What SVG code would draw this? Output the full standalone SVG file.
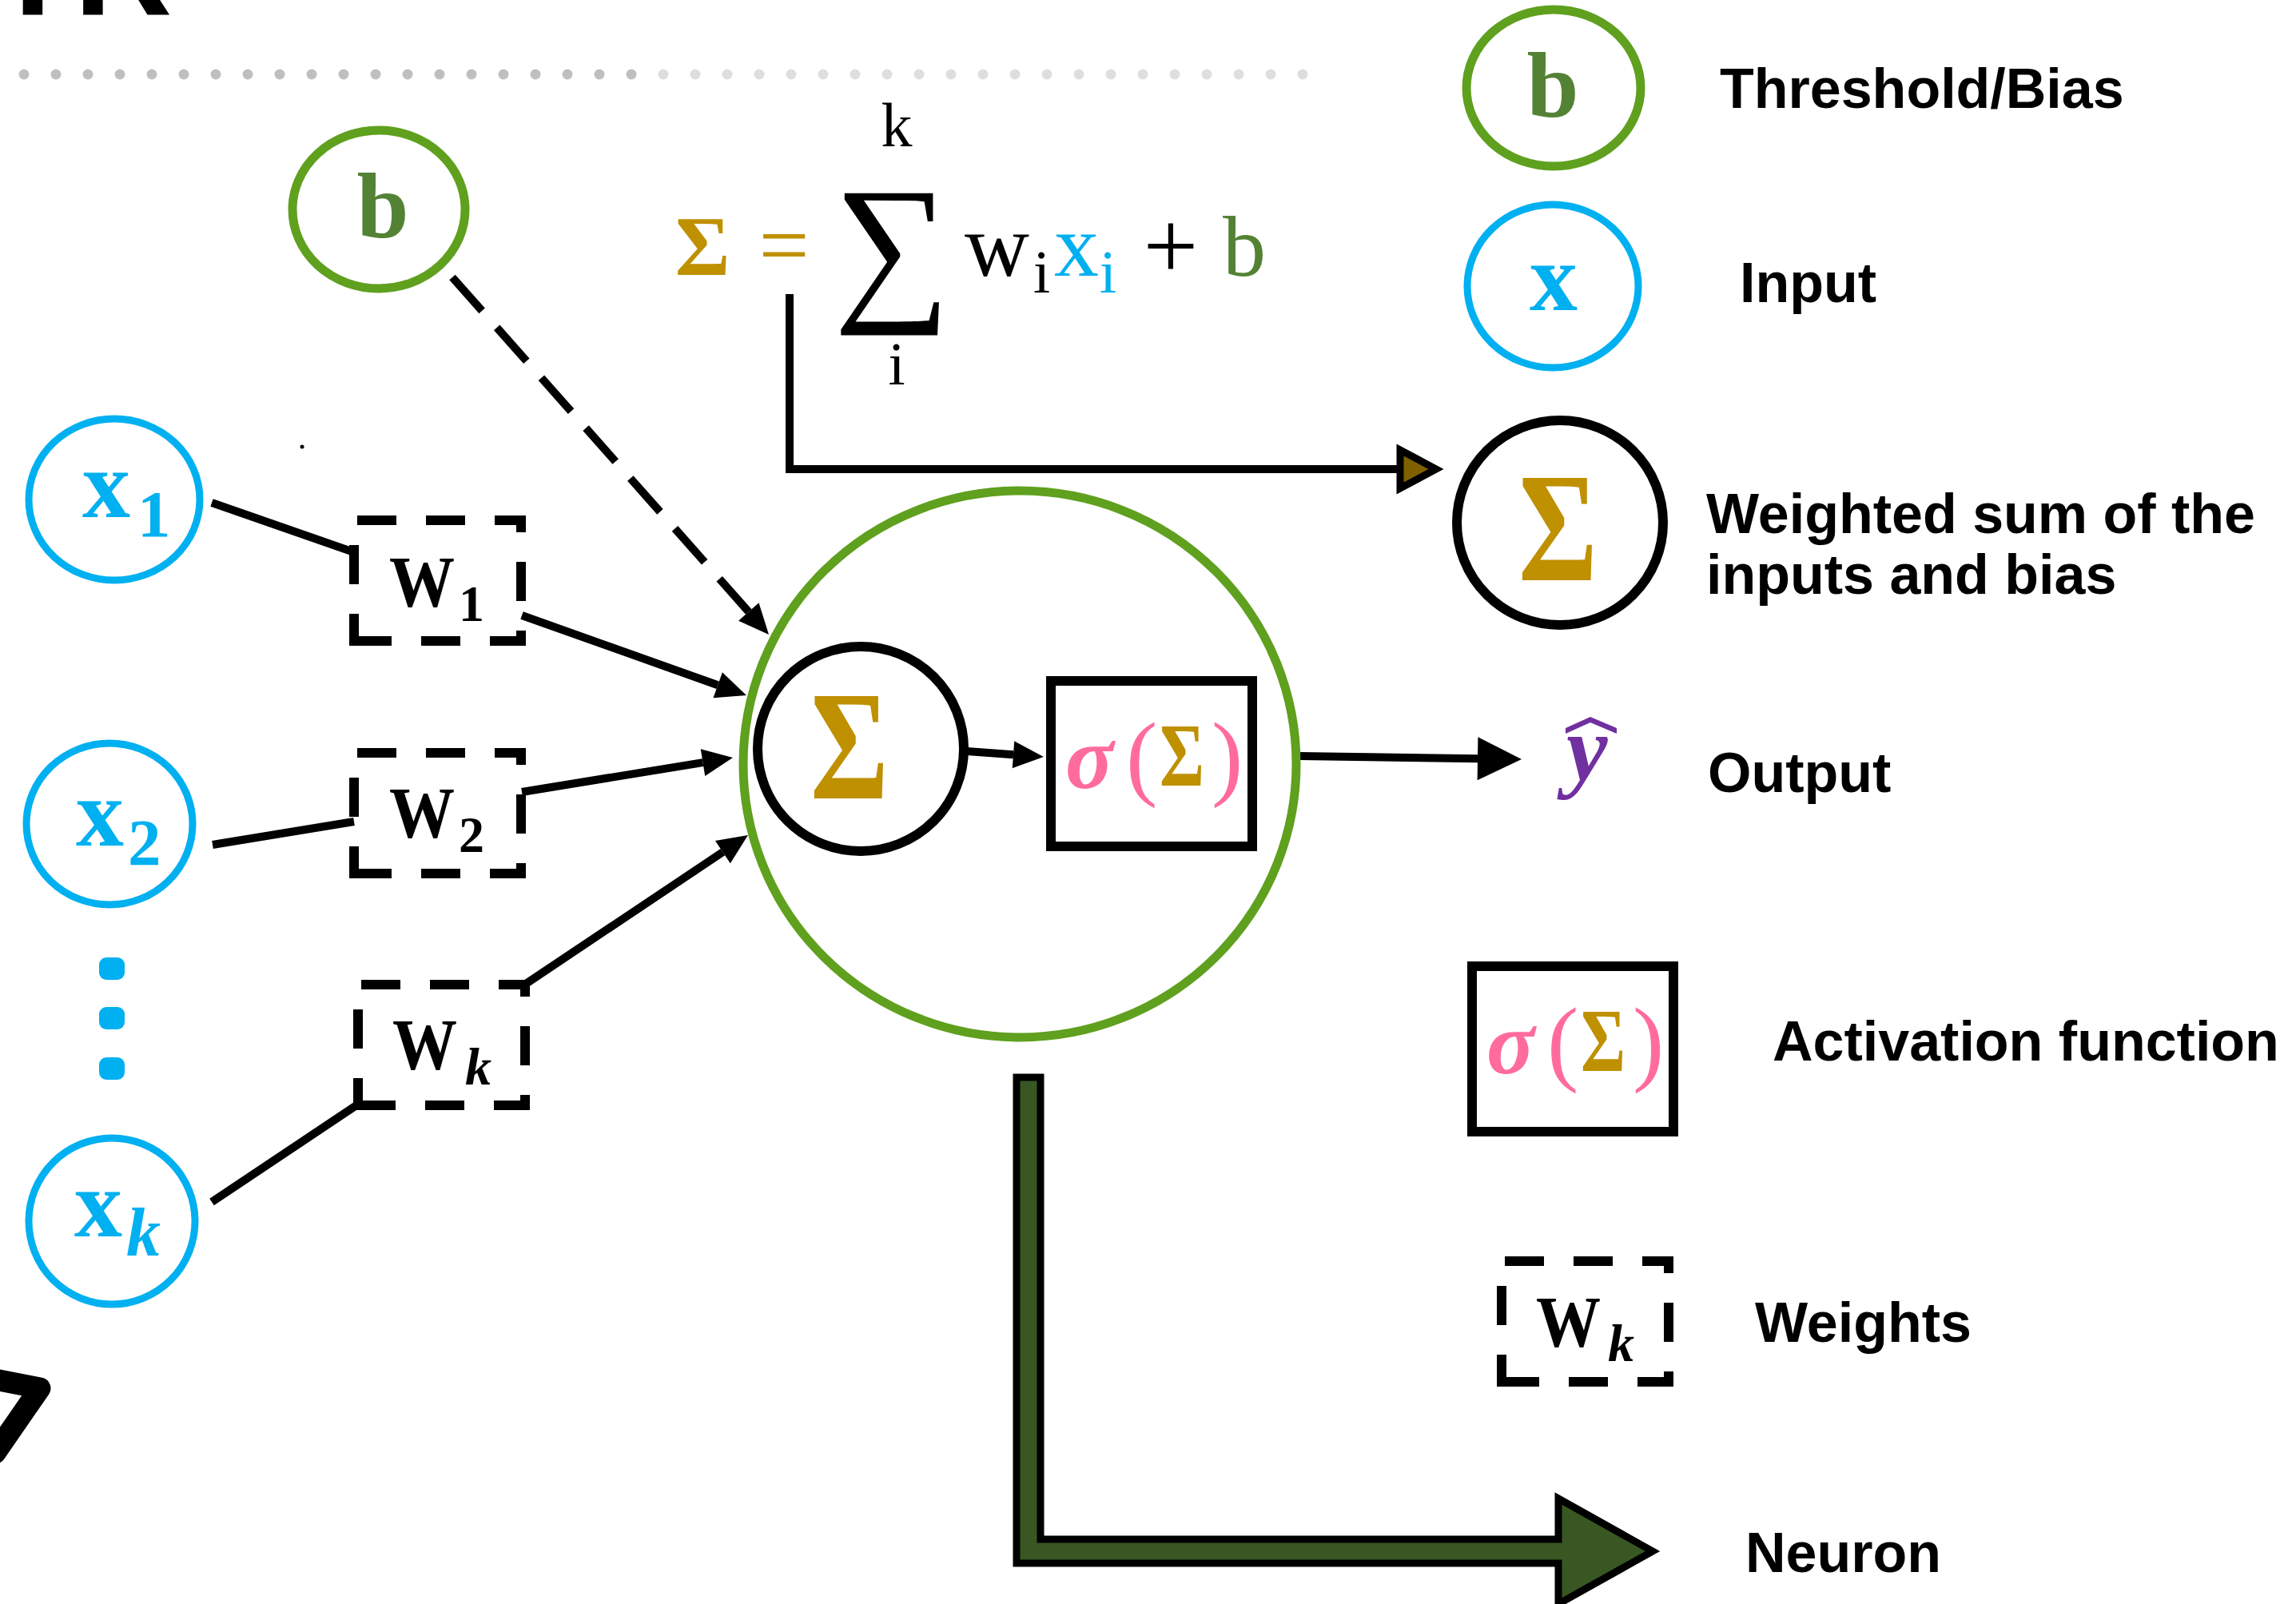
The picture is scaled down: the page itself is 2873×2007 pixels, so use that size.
<svg xmlns="http://www.w3.org/2000/svg" width="2873" height="2007" viewBox="0 0 2873 2007">
<style>
  .serif { font-family: "Liberation Serif", "DejaVu Serif", serif; }
  .bold { font-weight: bold; }
  .ital { font-style: italic; }
  .label { font-family: "Liberation Sans", Arial, sans-serif; font-weight: bold; font-size: 70px; fill: #000; }
  .blue { fill: #00b0f0; }
  .gold { fill: #bf9000; }
  .olive { fill: #548235; }
  .pink { fill: #ff6c9c; }
  .ring-green { fill: none; stroke: #5fa01e; stroke-width: 11; }
  .ring-blue { fill: none; stroke: #00b0f0; stroke-width: 9; }
  .ring-black { fill: none; stroke: #000; stroke-width: 12; }
  .wire { fill: none; stroke: #000; stroke-width: 10; }
  .side { stroke: #000; stroke-width: 12; stroke-dasharray: 49 37; }
  .dot-dark { fill: #bfbfbf; }
  .dot-light { fill: #dedede; }
</style>
<defs>
  <marker id="head" markerUnits="userSpaceOnUse" markerWidth="40" markerHeight="36" refX="0" refY="17" orient="auto" overflow="visible">
    <path d="M0,0 L38,17 L0,34 Z" fill="#000"/>
  </marker>
  <marker id="headBig" markerUnits="userSpaceOnUse" markerWidth="56" markerHeight="56" refX="0" refY="27" orient="auto" overflow="visible">
    <path d="M0,0 L55,27 L0,54 Z" fill="#000"/>
  </marker>
  <!-- dashed weight frame, 209 x 151 between stroke centres -->
  <g id="wbox">
    <line class="side" x1="-6" y1="0" x2="215" y2="0" stroke-dashoffset="-10"/>
    <line class="side" x1="209" y1="-6" x2="209" y2="157" stroke-dashoffset="28"/>
    <line class="side" x1="215" y1="151" x2="-6" y2="151" stroke-dashoffset="4"/>
    <line class="side" x1="0" y1="-6" x2="0" y2="157" stroke-dashoffset="49"/>
  </g>
  <!-- activation box: sigma(Sigma) -->
  <g id="actbox">
    <rect x="0" y="0" width="252" height="207" fill="#fff" stroke="#000" stroke-width="12"/>
    <text class="serif bold ital pink" x="18" y="134" font-size="112">σ</text>
    <text class="serif pink" x="94" y="134" font-size="118">(</text>
    <text class="serif bold gold" x="136" y="131" font-size="112" textLength="56" lengthAdjust="spacingAndGlyphs">Σ</text>
    <text class="serif pink" x="201" y="134" font-size="118">)</text>
  </g>
</defs>

<rect width="2873" height="2007" fill="#fff"/>

<!-- clipped heading letters at the top edge -->
<text x="-11" y="19" font-family="Liberation Sans, Arial, sans-serif" font-weight="bold" font-size="170" fill="#000">TR</text>

<!-- dotted separator -->
<g id="separator">
  <g class="dot-dark">
    <circle cx="30" cy="93" r="6.5"/><circle cx="70" cy="93" r="6.5"/><circle cx="110" cy="93" r="6.5"/><circle cx="150" cy="93" r="6.5"/>
    <circle cx="190" cy="93" r="6.5"/><circle cx="230" cy="93" r="6.5"/><circle cx="270" cy="93" r="6.5"/><circle cx="310" cy="93" r="6.5"/>
    <circle cx="350" cy="93" r="6.5"/><circle cx="390" cy="93" r="6.5"/><circle cx="430" cy="93" r="6.5"/><circle cx="470" cy="93" r="6.5"/>
    <circle cx="510" cy="93" r="6.5"/><circle cx="550" cy="93" r="6.5"/><circle cx="590" cy="93" r="6.5"/><circle cx="630" cy="93" r="6.5"/>
    <circle cx="670" cy="93" r="6.5"/><circle cx="710" cy="93" r="6.5"/><circle cx="750" cy="93" r="6.5"/><circle cx="790" cy="93" r="6.5"/>
  </g>
  <g class="dot-light">
    <circle cx="830" cy="93" r="6.5"/><circle cx="870" cy="93" r="6.5"/><circle cx="910" cy="93" r="6.5"/><circle cx="950" cy="93" r="6.5"/>
    <circle cx="990" cy="93" r="6.5"/><circle cx="1030" cy="93" r="6.5"/><circle cx="1070" cy="93" r="6.5"/><circle cx="1110" cy="93" r="6.5"/>
    <circle cx="1150" cy="93" r="6.5"/><circle cx="1190" cy="93" r="6.5"/><circle cx="1230" cy="93" r="6.5"/><circle cx="1270" cy="93" r="6.5"/>
    <circle cx="1310" cy="93" r="6.5"/><circle cx="1350" cy="93" r="6.5"/><circle cx="1390" cy="93" r="6.5"/><circle cx="1430" cy="93" r="6.5"/>
    <circle cx="1470" cy="93" r="6.5"/><circle cx="1510" cy="93" r="6.5"/><circle cx="1550" cy="93" r="6.5"/><circle cx="1590" cy="93" r="6.5"/>
    <circle cx="1630" cy="93" r="6.5"/>
  </g>
</g>

<!-- brush mark at lower-left edge -->
<path d="M-12,1725 L50,1737 L-6,1818" fill="none" stroke="#000" stroke-width="27" stroke-linejoin="round" stroke-linecap="round"/>
<circle cx="378" cy="559" r="2.5" fill="#000"/>

<!-- formula -->
<g id="formula">
  <text class="serif bold gold" x="879" y="344" font-size="105" text-anchor="middle">Σ</text>
  <text class="serif gold" x="981" y="344" font-size="112" text-anchor="middle">=</text>
  <text class="serif" x="1116" y="376" font-size="205" text-anchor="middle">∑</text>
  <text class="serif" x="1122" y="183" font-size="78" text-anchor="middle">k</text>
  <text class="serif" x="1122" y="481" font-size="76" text-anchor="middle">i</text>
  <text class="serif" x="1207" y="345" font-size="112">w</text>
  <text class="serif" x="1293" y="366" font-size="76">i</text>
  <text class="serif blue" x="1319" y="345" font-size="112">x</text>
  <text class="serif blue" x="1376" y="366" font-size="76">i</text>
  <text class="serif" x="1465" y="349" font-size="122" text-anchor="middle">+</text>
  <text class="serif olive" x="1530" y="345" font-size="108">b</text>
</g>

<!-- connectors -->
<g id="connectors">
  <line class="wire" x1="265" y1="629" x2="443" y2="691"/>
  <line class="wire" x1="266" y1="1057" x2="443" y2="1028"/>
  <line class="wire" x1="265" y1="1504" x2="449" y2="1381"/>
  <line class="wire" x1="653" y1="770" x2="898.2" y2="857.3" marker-end="url(#head)"/>
  <line class="wire" x1="653" y1="991" x2="879.5" y2="954.1" marker-end="url(#head)"/>
  <line class="wire" x1="658" y1="1231" x2="904.4" y2="1066.1" marker-end="url(#head)"/>
  <line class="wire" x1="566" y1="347" x2="936.8" y2="765.5" stroke-width="11" stroke-dasharray="56 28" marker-end="url(#head)"/>
  <line class="wire" x1="1210" y1="940" x2="1268" y2="944.2" marker-end="url(#head)"/>
  <line class="wire" x1="1626" y1="946" x2="1849" y2="949.2" stroke-width="18" marker-end="url(#headBig)"/>
  <path class="wire" d="M988,368 V587 H1754" stroke-width="11"/>
  <polygon points="1752,563 1797,587 1752,611" fill="#7f6000" stroke="#000" stroke-width="9"/>
  <polygon points="1272,1348 1302,1348 1302,1926 1950,1926 1950,1875 2068,1941 1950,2007 1950,1956 1272,1956" fill="#385723" stroke="#000" stroke-width="9"/>
</g>

<!-- bias node -->
<g id="node-b">
  <ellipse class="ring-green" cx="474" cy="262" rx="108" ry="99"/>
  <text class="serif bold olive" x="479" y="297" font-size="117" text-anchor="middle">b</text>
</g>

<!-- inputs -->
<g id="node-x1">
  <ellipse class="ring-blue" cx="143" cy="625" rx="107" ry="101"/>
  <text class="serif bold blue" x="103" y="647" font-size="120">x</text>
  <text class="serif bold blue" x="172" y="671" font-size="83">1</text>
</g>
<g id="node-x2">
  <ellipse class="ring-blue" cx="137" cy="1031" rx="104" ry="101"/>
  <text class="serif bold blue" x="95" y="1058" font-size="120">x</text>
  <text class="serif bold blue" x="160" y="1082" font-size="83">2</text>
</g>
<g id="ellipsis" class="blue">
  <rect x="124" y="1198" width="32" height="28" rx="9"/>
  <rect x="124" y="1260" width="32" height="28" rx="9"/>
  <rect x="124" y="1323" width="32" height="28" rx="9"/>
</g>
<g id="node-xk">
  <ellipse class="ring-blue" cx="140" cy="1528" rx="104" ry="104"/>
  <text class="serif bold blue" x="93" y="1547" font-size="120">x</text>
  <text class="serif bold ital blue" x="158" y="1571" font-size="86">k</text>
</g>

<!-- weights -->
<g id="node-w1">
  <use href="#wbox" x="443" y="651"/>
  <text class="serif bold" x="487" y="759" font-size="92" textLength="82" lengthAdjust="spacingAndGlyphs">W</text>
  <text class="serif bold" x="574" y="777" font-size="64">1</text>
</g>
<g id="node-w2">
  <use href="#wbox" x="443" y="942"/>
  <text class="serif bold" x="487" y="1048" font-size="92" textLength="82" lengthAdjust="spacingAndGlyphs">W</text>
  <text class="serif bold" x="574" y="1066" font-size="64">2</text>
</g>
<g id="node-wk">
  <use href="#wbox" x="448" y="1232"/>
  <text class="serif bold" x="491" y="1338" font-size="92" textLength="81" lengthAdjust="spacingAndGlyphs">W</text>
  <text class="serif bold ital" x="582" y="1357" font-size="66">k</text>
</g>

<!-- neuron -->
<g id="neuron">
  <ellipse class="ring-green" cx="1276" cy="956" rx="346" ry="342"/>
  <g id="node-sum">
    <ellipse class="ring-black" cx="1077" cy="937" rx="129" ry="128"/>
    <text class="serif bold gold" x="1014" y="999" font-size="196" textLength="98" lengthAdjust="spacingAndGlyphs">Σ</text>
  </g>
  <g id="node-act">
    <use href="#actbox" x="1315" y="852"/>
  </g>
</g>

<!-- output -->
<g id="node-out">
  <text class="serif bold ital" x="1960" y="976" font-size="116" fill="#7030a0">y</text>
  <path d="M1959,911 L1990,897 L2023,911 L2023,918 L1990,904 L1959,918 Z" fill="#7030a0"/>
</g>

<!-- legend -->
<g id="legend">
  <g id="legend-b">
    <ellipse class="ring-green" cx="1944" cy="110" rx="109" ry="98"/>
    <text class="serif bold olive" x="1943" y="146" font-size="117" text-anchor="middle">b</text>
    <text class="label" x="2152" y="135">Threshold/Bias</text>
  </g>
  <g id="legend-x">
    <ellipse class="ring-blue" cx="1943" cy="358" rx="107" ry="102"/>
    <text class="serif bold blue" x="1944" y="388" font-size="120" text-anchor="middle">x</text>
    <text class="label" x="2177" y="378">Input</text>
  </g>
  <g id="legend-sum">
    <ellipse class="ring-black" cx="1952" cy="654" rx="129" ry="128" stroke-width="13"/>
    <text class="serif bold gold" x="1900" y="726" font-size="196" textLength="99" lengthAdjust="spacingAndGlyphs">Σ</text>
    <text class="label" x="2135" y="667">Weighted sum of the</text>
    <text class="label" x="2135" y="743">inputs and bias</text>
  </g>
  <g id="legend-out">
    <text class="label" x="2137" y="991">Output</text>
  </g>
  <g id="legend-act">
    <use href="#actbox" x="1842" y="1209"/>
    <text class="label" x="2218" y="1327">Activation function</text>
  </g>
  <g id="legend-w">
    <use href="#wbox" x="1879" y="1578"/>
    <text class="serif bold" x="1922" y="1685" font-size="92" textLength="81" lengthAdjust="spacingAndGlyphs">W</text>
    <text class="serif bold ital" x="2012" y="1703" font-size="66">k</text>
    <text class="label" x="2196" y="1679">Weights</text>
  </g>
  <g id="legend-neuron">
    <text class="label" x="2184" y="1967">Neuron</text>
  </g>
</g>
</svg>
